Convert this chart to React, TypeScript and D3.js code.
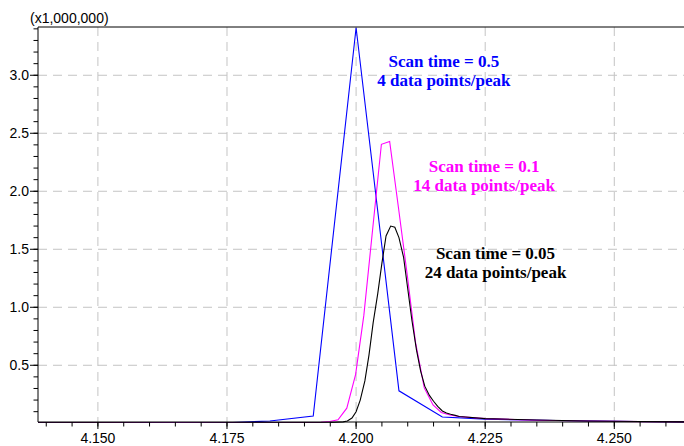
import React from "react";
import * as d3 from "d3";

const blueTimes = [4.1333, 4.1417, 4.15, 4.1583, 4.1667, 4.175, 4.1833, 4.1917, 4.2, 4.2083, 4.2167, 4.225, 4.2333, 4.2417, 4.25, 4.2583, 4.2667];
const blueValues = [0.004, 0.004, 0.005, 0.004, 0.005, 0.005, 0.02, 0.063, 3.41, 0.28, 0.054, 0.036, 0.028, 0.022, 0.017, 0.013, 0.011];

const magentaTimes = [4.1383, 4.15, 4.16, 4.175, 4.185, 4.1915, 4.1932, 4.1949, 4.1965, 4.1982, 4.1999, 4.2015, 4.2032, 4.2049, 4.2065, 4.2082, 4.2099, 4.2115, 4.2132, 4.2149, 4.2165, 4.2182, 4.2199, 4.225, 4.235, 4.245, 4.255, 4.2635];
const magentaValues = [0.005, 0.006, 0.004, 0.004, 0.005, 0.007, 0.008, 0.015, 0.03, 0.13, 0.42, 0.93, 1.67, 2.405, 2.43, 1.86, 1.28, 0.7, 0.305, 0.158, 0.093, 0.072, 0.059, 0.04, 0.026, 0.019, 0.014, 0.012];

const blackTimes = [4.1383, 4.15, 4.165, 4.18, 4.19, 4.195, 4.1975, 4.1983, 4.1992, 4.2, 4.2008, 4.2017, 4.2025, 4.2033, 4.2042, 4.205, 4.2058, 4.2067, 4.2075, 4.2083, 4.2092, 4.21, 4.2108, 4.2117, 4.2125, 4.2133, 4.2142, 4.215, 4.2158, 4.2167, 4.2175, 4.2183, 4.2192, 4.22, 4.225, 4.235, 4.245, 4.255, 4.2635];
const blackValues = [0.004, 0.004, 0.003, 0.004, 0.005, 0.007, 0.012, 0.02, 0.045, 0.1, 0.2, 0.365, 0.59, 0.865, 1.12, 1.38, 1.615, 1.7, 1.69, 1.6, 1.43, 1.16, 0.89, 0.63, 0.45, 0.32, 0.24, 0.19, 0.145, 0.106, 0.089, 0.078, 0.068, 0.059, 0.04, 0.028, 0.02, 0.015, 0.012];

const xMajorTicks = [4.15, 4.175, 4.2, 4.225, 4.25];
const yMajorTicks = [0.5, 1.0, 1.5, 2.0, 2.5, 3.0];

const annotations = [
  { lines: ["Scan time = 0.5", "4 data points/peak"], color: "#0000ff", t: 4.2170, v: 3.07 },
  { lines: ["Scan time = 0.1", "14 data points/peak"], color: "#ff00ff", t: 4.2248, v: 2.17 },
  { lines: ["Scan time = 0.05", "24 data points/peak"], color: "#000000", t: 4.2270, v: 1.42 },
];

const W = 684;
const H = 446;
const L = 38, R = 684, T = 27, B = 422;

export default function App() {
  const x = d3.scaleLinear().domain([4.1384, 4.2635]).range([L, R]);
  const y = d3.scaleLinear().domain([0.011, 3.416]).range([B, T]);

  const xMinor = d3.range(4.14, 4.2626, 0.005);
  const yMinor = d3.range(0.1, 3.41, 0.1);

  const line = d3.line<[number, number]>().x((d) => x(d[0])).y((d) => y(d[1]));
  const series = [
    { times: blueTimes, values: blueValues, color: "#0000ff" },
    { times: magentaTimes, values: magentaValues, color: "#ff00ff" },
    { times: blackTimes, values: blackValues, color: "#000000" },
  ];
  const tickFont = "'Liberation Sans', Arial, sans-serif";

  return (
    <svg width={W} height={H} style={{ position: "absolute", left: 0, top: 0, background: "#fff" }}>
      <defs>
        <clipPath id="plot">
          <rect x={L} y={T - 2} width={R - L} height={B - T + 3} />
        </clipPath>
      </defs>
      <rect x={0} y={0} width={W} height={H} fill="#fff" />
      {xMajorTicks.map((t) => (
        <line key={"gx" + t} x1={x(t)} x2={x(t)} y1={T} y2={B} stroke="#c4c4c4" strokeDasharray="9,6" strokeWidth={1} />
      ))}
      {yMajorTicks.map((v) => (
        <line key={"gy" + v} x1={L} x2={R} y1={y(v)} y2={y(v)} stroke="#c4c4c4" strokeDasharray="9,6" strokeWidth={1} />
      ))}
      <g clipPath="url(#plot)">
        {series.map((s, i) => (
          <path
            key={i}
            d={line(s.times.map((t, j) => [t, s.values[j]] as [number, number])) || ""}
            fill="none"
            stroke={s.color}
            strokeWidth={1.1}
            strokeLinejoin="miter"
          />
        ))}
      </g>
      <line x1={L} x2={R} y1={T} y2={T} stroke="#000" strokeWidth={1} />
      <line x1={L} x2={L} y1={T} y2={B} stroke="#000" strokeWidth={1} />
      <line x1={L} x2={R} y1={B} y2={B} stroke="#000" strokeWidth={1} />
      {xMinor.map((t, i) => (
        <line key={"xm" + i} x1={x(t)} x2={x(t)} y1={B} y2={B + 4.5} stroke="#000" strokeWidth={1} />
      ))}
      {xMajorTicks.map((t) => (
        <g key={"xt" + t}>
          <line x1={x(t)} x2={x(t)} y1={B} y2={B + 7} stroke="#000" strokeWidth={1} />
          <text x={x(t)} y={443} textAnchor="middle" fontFamily={tickFont} fontSize={14} fill="#000">
            {d3.format(".3f")(t)}
          </text>
        </g>
      ))}
      {yMinor.map((v, i) => (
        <line key={"ym" + i} x1={L - 4.5} x2={L} y1={y(v)} y2={y(v)} stroke="#000" strokeWidth={1} />
      ))}
      {yMajorTicks.map((v) => (
        <g key={"yt" + v}>
          <line x1={L - 8} x2={L} y1={y(v)} y2={y(v)} stroke="#000" strokeWidth={1} />
          <text x={29} y={y(v)} dy="0.35em" textAnchor="end" fontFamily={tickFont} fontSize={14} fill="#000">
            {d3.format(".1f")(v)}
          </text>
        </g>
      ))}
      <text x={30} y={23} fontFamily={tickFont} fontSize={14} fill="#000">(x1,000,000)</text>
      {annotations.map((a, i) => (
        <text
          key={"a" + i}
          x={x(a.t)}
          y={y(a.v)}
          textAnchor="middle"
          fontFamily="'Liberation Serif', 'Times New Roman', serif"
          fontWeight="bold"
          fontSize={17}
          fill={a.color}
        >
          {a.lines.map((l, j) => (
            <tspan key={j} x={x(a.t)} dy={j === 0 ? 0 : 19}>
              {l}
            </tspan>
          ))}
        </text>
      ))}
    </svg>
  );
}
